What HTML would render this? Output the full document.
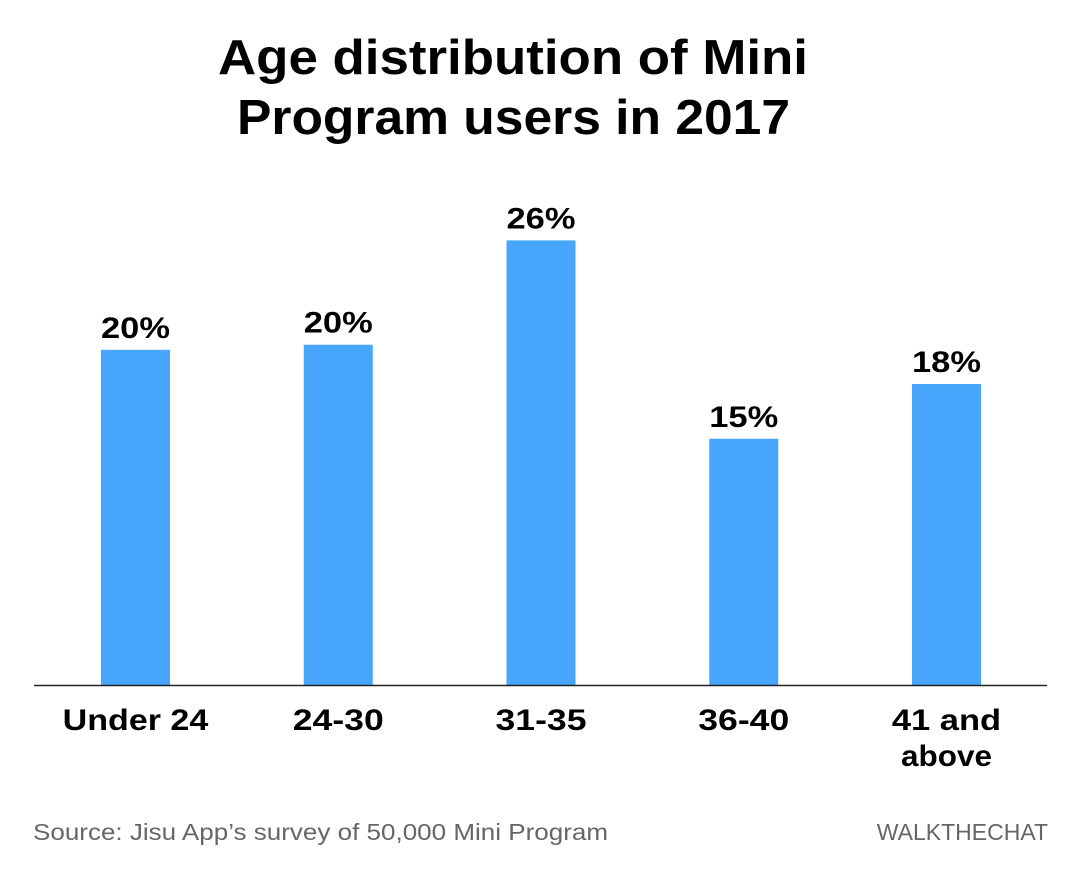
<!DOCTYPE html>
<html><head><meta charset="utf-8"><style>
body{margin:0;background:#fff;width:1080px;height:873px;overflow:hidden;font-family:"Liberation Sans",sans-serif}
</style></head><body>
<svg width="1080" height="873">
<text x="218" y="74" font-size="49" font-weight="bold" textLength="590" lengthAdjust="spacingAndGlyphs">Age distribution of Mini</text>
<text x="237" y="134" font-size="49" font-weight="bold" textLength="553" lengthAdjust="spacingAndGlyphs">Program users in 2017</text>
<g id="bars"></g>
<line x1="34" x2="1047" y1="685.5" y2="685.5" stroke="#222" stroke-width="1.5"/>
<text x="33" y="840" font-size="23" fill="#666" textLength="575" lengthAdjust="spacingAndGlyphs">Source: Jisu App’s survey of 50,000 Mini Program</text>
<text x="1048" y="840" text-anchor="end" font-size="23" fill="#666">WALKTHECHAT</text>
</svg>
<script>
const categories=[["Under 24"],["24-30"],["31-35"],["36-40"],["41 and","above"]];
const values=[19.6,19.9,26.0,14.4,17.6];
const valueLabels=["20%","20%","26%","15%","18%"];
const g=document.getElementById('bars');
const ns='http://www.w3.org/2000/svg';
const base=685, pxPer=17.1, x0=101, step=202.75, bw=69;
function y(v){return base-v*pxPer;}
function xc(i){return x0+i*step+bw/2;}
values.forEach((v,i)=>{
 const r=document.createElementNS(ns,'rect');
 r.setAttribute('x',xc(i)-bw/2);r.setAttribute('y',y(v));r.setAttribute('width',bw);r.setAttribute('height',base-y(v));r.setAttribute('fill','#47a5fb');
 
 
 g.appendChild(r);
 const t=document.createElementNS(ns,'text');
 t.setAttribute('x',xc(i));t.setAttribute('y',y(v)-12);t.setAttribute('text-anchor','middle');t.setAttribute('font-size','30');t.setAttribute('font-weight','bold');
 t.setAttribute('textLength',valueLabels[i].length*23);t.setAttribute('lengthAdjust','spacingAndGlyphs');
 t.textContent=valueLabels[i];
 
 
 g.appendChild(t);
 categories[i].forEach((line,j)=>{
  const c=document.createElementNS(ns,'text');
  c.setAttribute('x',xc(i));c.setAttribute('y',730+j*36);c.setAttribute('text-anchor','middle');c.setAttribute('font-size','30');c.setAttribute('font-weight','bold');
  c.setAttribute('textLength',line.length*18.2);c.setAttribute('lengthAdjust','spacingAndGlyphs');
  c.textContent=line;
  
  
  g.appendChild(c);
 });
});
</script>
</body></html>
